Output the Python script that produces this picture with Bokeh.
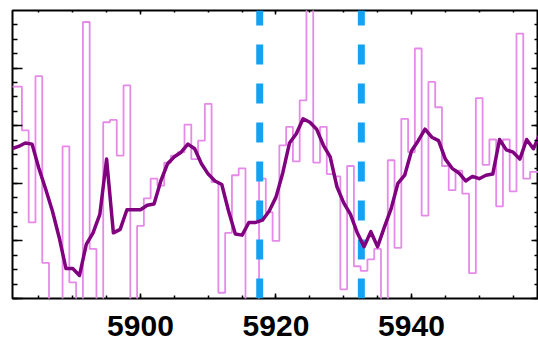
from bokeh.plotting import figure
from bokeh.models import Range1d, LinearAxis, SingleIntervalTicker, CustomLabelingPolicy
from bokeh.embed import file_html
from bokeh.resources import INLINE

wavelength = list(range(5880, 5960))

flux = [
    1.084, 1.084, 1.084, 1.046, 0.966, 1.093, 0.931, 0.870, 0.880, 1.032,
    0.914, 0.875, 1.140, 0.943, 0.875, 1.053, 1.055, 1.024, 1.085, 0.870,
    0.963, 0.987, 1.004, 0.998, 1.018, 1.024, 1.027, 1.051, 1.021, 1.037,
    1.069, 1.001, 0.905, 0.957, 1.007, 1.013, 0.875, 0.880, 1.004, 0.975,
    0.950, 1.033, 1.049, 1.019, 1.072, 1.170, 1.018, 1.049, 1.008, 1.006,
    0.908, 1.015, 0.928, 0.924, 0.934, 0.943, 0.870, 1.020, 0.944, 1.056,
    1.027, 1.117, 0.972, 1.088, 1.066, 1.015, 0.994, 1.011, 0.991, 0.922,
    1.074, 1.016, 1.038, 0.980, 1.038, 0.993, 1.130, 1.004, 1.010, 1.010,
]

smooth = [
    1.029, 1.030, 1.032, 1.035, 1.034, 1.013, 0.995, 0.976, 0.953, 0.926,
    0.926, 0.920, 0.947, 0.957, 0.973, 1.021, 0.957, 0.960, 0.977, 0.977,
    0.977, 0.981, 0.982, 1.002, 1.017, 1.023, 1.027, 1.034, 1.030, 1.017,
    1.008, 1.002, 0.999, 0.976, 0.956, 0.955, 0.966, 0.966, 0.968, 0.976,
    0.988, 1.009, 1.035, 1.043, 1.056, 1.053, 1.047, 1.033, 1.023, 0.997,
    0.983, 0.973, 0.957, 0.945, 0.958, 0.945, 0.962, 0.978, 1.000, 1.007,
    1.028, 1.037, 1.047, 1.040, 1.037, 1.021, 1.013, 1.009, 1.002, 1.006,
    1.004, 1.007, 1.008, 1.038, 1.029, 1.027, 1.021, 1.038, 1.030, 1.043,
]

line_positions = [5917.6, 5932.6]
x_range = (5881.11, 5958.75)
y_range = (0.90, 1.15)

p = figure(width=538, height=341,
           x_range=Range1d(*x_range), y_range=Range1d(*y_range),
           output_backend="svg", toolbar_location=None,
           x_axis_location=None, y_axis_location=None,
           min_border_left=12, min_border_right=0,
           min_border_top=10, min_border_bottom=43)
p.grid.visible = False
p.outline_line_color = "black"
p.outline_line_width = 2
p.background_fill_color = "white"
p.border_fill_color = "white"

no_labels = CustomLabelingPolicy(
    code="for (let i = 0; i < indices.size; i++) { indices.unset(i) } return indices")

def make_axis(interval, tin, tmin, labels):
    ax = LinearAxis(ticker=SingleIntervalTicker(interval=interval, num_minor_ticks=4))
    ax.axis_line_color = None
    ax.major_tick_in = tin
    ax.major_tick_out = 0
    ax.minor_tick_in = tmin
    ax.minor_tick_out = 0
    ax.major_tick_line_color = "black"
    ax.minor_tick_line_color = "black"
    ax.major_tick_line_width = 1.5
    ax.minor_tick_line_width = 1.5
    if labels:
        ax.major_label_text_font = "Liberation Sans"
        ax.major_label_text_font_style = "bold"
        ax.major_label_text_font_size = "30px"
        ax.major_label_text_color = "black"
        ax.major_label_text_line_height = 0.7
        ax.major_label_standoff = 17
    else:
        ax.major_label_policy = no_labels
        ax.major_label_text_font_size = "0px"
        ax.major_label_standoff = 0
    return ax

p.add_layout(make_axis(20, 5, 3, True), "below")
p.add_layout(make_axis(20, 4, 2, False), "above")
p.add_layout(make_axis(0.05, 10, 5, False), "left")
p.add_layout(make_axis(0.05, 7, 4, False), "right")

p.step(wavelength, flux, mode="center", line_color="#e58ae8", line_width=1.8)
p.segment(x0=line_positions, y0=[y_range[0]] * 2, x1=line_positions, y1=[y_range[1]] * 2,
          line_color="#14a2f2", line_width=7, line_dash="20 19")
p.line(wavelength, smooth, line_color="#800080", line_width=3.5, line_join="round")

open("out.html", "w").write(file_html(p, INLINE))
